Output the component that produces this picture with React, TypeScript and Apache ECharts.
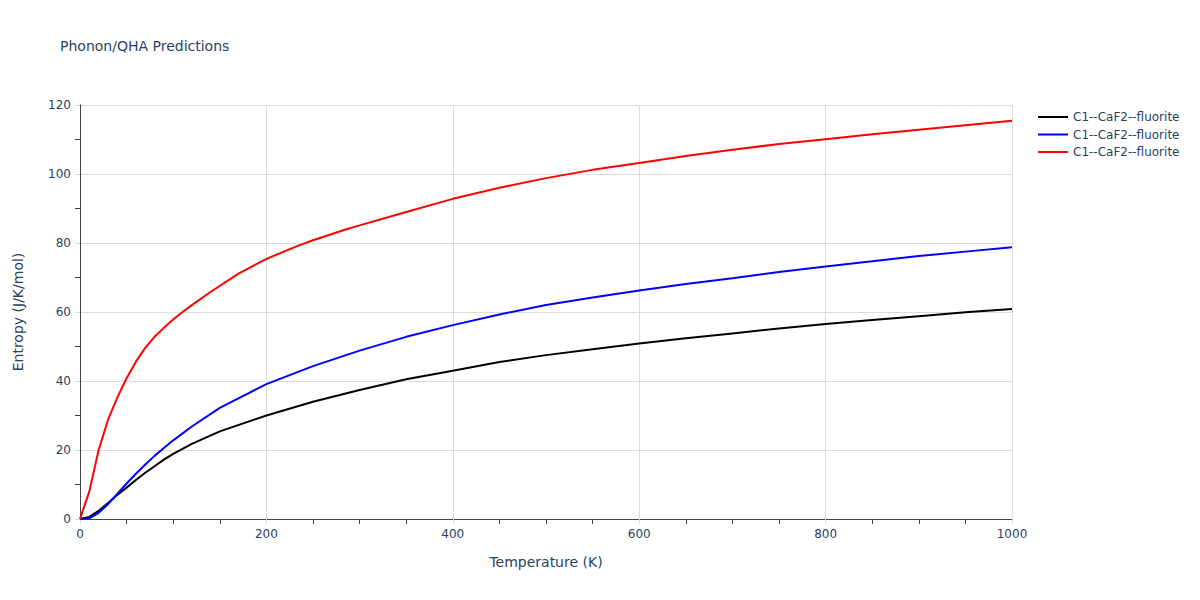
import React, { useEffect, useRef } from "react";
import * as echarts from "echarts";

const blackT = [0, 10, 20, 30, 40, 50, 60, 70, 80, 90, 100, 120, 150, 200, 250, 300, 350, 400, 450, 500, 550, 600, 650, 700, 750, 800, 850, 900, 950, 1000];
const blackS = [0, 0.6, 2.4, 4.6, 7.0, 9.1, 11.3, 13.4, 15.3, 17.2, 18.9, 21.8, 25.4, 30, 34, 37.4, 40.5, 43, 45.5, 47.5, 49.2, 50.9, 52.4, 53.8, 55.2, 56.5, 57.7, 58.8, 59.9, 60.9];
const blueT = [0, 10, 20, 30, 40, 50, 60, 70, 80, 90, 100, 120, 150, 200, 250, 300, 350, 400, 450, 500, 550, 600, 650, 700, 750, 800, 850, 900, 950, 1000];
const blueS = [0, 0.2, 1.8, 4.3, 7.3, 10.3, 13.1, 15.8, 18.3, 20.6, 22.8, 26.8, 32.2, 39.1, 44.3, 48.8, 52.8, 56.2, 59.3, 62, 64.2, 66.2, 68.1, 69.8, 71.6, 73.2, 74.7, 76.2, 77.5, 78.8];
const redT = [0, 10, 20, 30, 40, 50, 60, 70, 80, 90, 100, 110, 120, 140, 170, 200, 235, 250, 285, 300, 350, 400, 450, 500, 550, 600, 650, 700, 750, 800, 850, 900, 950, 1000];
const redS = [0, 8, 20, 28.7, 35.2, 40.8, 45.6, 49.6, 52.8, 55.4, 57.8, 60, 62, 65.8, 71.1, 75.4, 79.3, 80.8, 83.9, 85.1, 89, 92.8, 96, 98.8, 101.2, 103.2, 105.2, 107, 108.7, 110.1, 111.5, 112.8, 114.1, 115.4];
const seriesNames = ["black", "blue", "red"];
const seriesColors = ["#000000", "#0000ff", "#ff0000"];
const legendLabel = "C1--CaF2--fluorite";

const FONT = '"DejaVu Sans", verdana, sans-serif';
const TXT = "#2a3f5f";
const GRID = "#dcdcdc";

export default function App() {
  const ref = useRef<HTMLDivElement>(null);
  useEffect(() => {
    if (!ref.current) return;
    const chart = echarts.init(ref.current, null, { renderer: "svg" });
    const xs = [blackT, blueT, redT];
    const ys = [blackS, blueS, redS];
    chart.setOption({
      animation: false,
      backgroundColor: "#fff",
      title: {
        text: "Phonon/QHA Predictions",
        left: 55,
        top: 34,
        textStyle: { fontFamily: FONT, fontSize: 14, fontWeight: "normal", color: TXT },
      },
      legend: {
        orient: "vertical",
        left: 1032,
        top: 106,
        itemWidth: 30,
        itemHeight: 14,
        itemGap: 5.5,
        itemTextGap: 5,
        data: seriesNames,
        formatter: () => legendLabel,
        itemStyle: { opacity: 0 },
        textStyle: { fontFamily: FONT, fontSize: 12, color: TXT },
      },
      grid: { left: 80, right: 188, top: 105, bottom: 81, containLabel: false },
      xAxis: {
        type: "value",
        min: 0,
        max: 1000,
        interval: 200,
        name: "Temperature (K)",
        nameLocation: "middle",
        nameGap: 36,
        nameTextStyle: { fontFamily: FONT, fontSize: 14, color: TXT },
        axisLine: { show: true, onZero: false, lineStyle: { color: "#444", width: 1 } },
        axisTick: { show: true, length: 5, lineStyle: { color: GRID } },
        minorTick: { show: true, splitNumber: 4, length: 5, lineStyle: { color: "#444" } },
        axisLabel: { fontFamily: FONT, fontSize: 12, color: TXT, margin: 9, formatter: (v: number) => String(v) },
        splitLine: { show: true, lineStyle: { color: GRID, width: 1 } },
      },
      yAxis: {
        type: "value",
        min: 0,
        max: 120,
        interval: 20,
        name: "Entropy (J/K/mol)",
        nameLocation: "middle",
        nameGap: 55,
        nameTextStyle: { fontFamily: FONT, fontSize: 14, color: TXT },
        axisLine: { show: true, lineStyle: { color: "#444", width: 1 } },
        axisTick: { show: true, length: 5, lineStyle: { color: GRID } },
        minorTick: { show: true, splitNumber: 2, length: 5, lineStyle: { color: "#444" } },
        axisLabel: { fontFamily: FONT, fontSize: 12, color: TXT, margin: 9, formatter: (v: number) => String(v) },
        splitLine: { show: true, lineStyle: { color: GRID, width: 1 } },
      },
      series: seriesNames.map((n, i) => ({
        name: n,
        type: "line",
        symbol: "none",
        color: seriesColors[i],
        lineStyle: { color: seriesColors[i], width: 2 },
        data: xs[i].map((t, j) => [t, ys[i][j]]),
      })),
    });
    return () => chart.dispose();
  }, []);
  return <div ref={ref} style={{ width: 1200, height: 600, margin: -8 }} />;
}
